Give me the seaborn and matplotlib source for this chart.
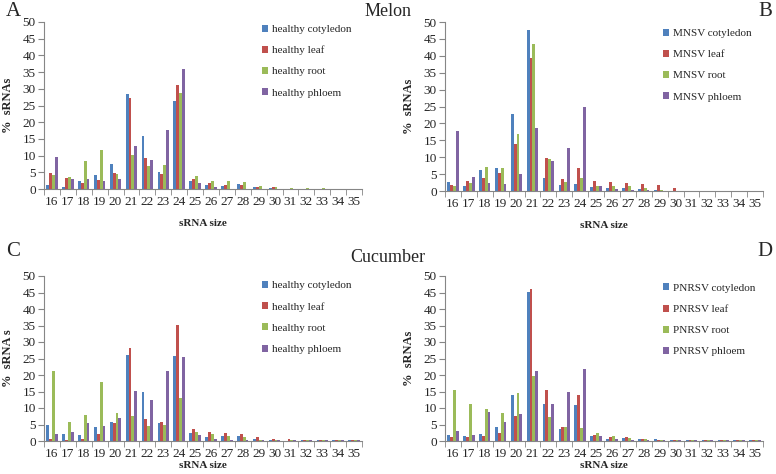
import matplotlib
matplotlib.use("Agg")
import matplotlib.pyplot as plt
import pandas as pd
import seaborn as sns

sizes = list(range(16, 36))
colores = ["#4F81BD", "#C0504D", "#9BBB59", "#8064A2"]

# Melon healthy (A)
a_cotyledon = [1.1, 0.7, 2.3, 4.1, 7.5, 28.4, 15.8, 5.1, 26.3, 2.5, 1.1, 1.0, 1.4, 0.7, 0.4, 0.1, 0.1, 0.1, 0.1, 0.1]
a_leaf = [4.8, 3.4, 1.9, 2.7, 4.8, 27.2, 9.3, 4.4, 31.2, 3.0, 1.8, 1.2, 1.3, 0.7, 0.5, 0.1, 0.1, 0.1, 0.1, 0.1]
a_root = [4.2, 3.7, 8.4, 11.7, 4.5, 10.2, 6.9, 7.2, 28.7, 3.9, 2.4, 2.3, 2.0, 1.0, 0.5, 0.4, 0.4, 0.4, 0.1, 0.1]
a_phloem = [9.7, 3.0, 3.0, 2.3, 3.0, 12.9, 8.7, 17.7, 35.9, 1.7, 0.5, 0.1, 0.1, 0.1, 0.05, 0.0, 0.0, 0.0, 0.0, 0.0]

# Melon MNSV (B)
b_cotyledon = [2.6, 1.5, 6.2, 6.8, 22.7, 47.7, 3.8, 1.9, 2.2, 1.2, 1.0, 0.8, 0.7, 0.2, 0.1, 0, 0, 0, 0, 0]
b_leaf = [1.7, 2.9, 3.8, 5.3, 14.0, 39.3, 9.7, 3.5, 6.8, 2.9, 2.6, 2.5, 2.1, 1.7, 0.8, 0, 0, 0, 0, 0]
b_root = [1.5, 2.3, 7.0, 6.8, 17.0, 43.5, 9.4, 2.8, 3.8, 1.6, 1.4, 1.4, 0.8, 0.2, 0.05, 0, 0, 0, 0, 0]
b_phloem = [17.7, 4.1, 2.3, 2.1, 5.0, 18.6, 8.8, 12.7, 25.0, 1.6, 0.5, 0.3, 0.2, 0, 0, 0, 0, 0, 0, 0]

# Cucumber healthy (C)
c_cotyledon = [4.9, 2.1, 1.8, 4.2, 5.7, 26.1, 15.0, 5.6, 25.8, 2.3, 1.2, 1.5, 1.5, 0.5, 0.2, 0.1, 0.2, 0.2, 0.2, 0.2]
c_leaf = [0.6, 0.3, 0.6, 2.1, 5.5, 28.2, 6.8, 5.7, 35.3, 3.6, 2.6, 2.3, 2.1, 1.2, 0.6, 0.6, 0.2, 0.2, 0.2, 0.2]
c_root = [21.1, 5.9, 7.9, 18.0, 8.4, 7.6, 4.6, 4.9, 12.9, 2.7, 2.1, 1.5, 1.1, 0.3, 0.2, 0.2, 0.2, 0.2, 0.2, 0.2]
c_phloem = [2.1, 2.7, 5.5, 4.6, 6.9, 15.3, 12.4, 21.3, 25.4, 1.7, 0.6, 0.3, 0.2, 0.2, 0.2, 0.2, 0.2, 0.2, 0.2, 0.2]

# Cucumber PNRSV (D)
d_cotyledon = [1.9, 1.4, 2.1, 4.3, 13.8, 45.1, 11.3, 3.5, 11.0, 1.4, 0.7, 0.8, 0.6, 0.5, 0.2, 0.2, 0.2, 0.2, 0.2, 0.2]
d_leaf = [1.1, 1.1, 1.5, 2.5, 7.6, 46.2, 15.5, 4.1, 13.9, 1.9, 1.2, 1.1, 0.7, 0.3, 0.2, 0.2, 0.2, 0.2, 0.2, 0.2]
d_root = [15.4, 11.1, 9.6, 8.6, 14.5, 19.7, 7.2, 4.1, 3.9, 2.3, 1.4, 0.9, 0.5, 0.2, 0.2, 0.2, 0.2, 0.2, 0.2, 0.2]
d_phloem = [2.9, 1.7, 8.8, 5.7, 8.2, 21.3, 11.1, 15.0, 21.7, 1.5, 0.7, 0.3, 0.2, 0.2, 0.2, 0.2, 0.2, 0.2, 0.2, 0.2]

tecidos = ["cotyledon", "leaf", "root", "phloem"]


def montar_df(prefixo, series):
    linhas = []
    for tecido, valores in zip(tecidos, series):
        for s, v in zip(sizes, valores):
            linhas.append({"size": str(s), "pct": v, "tissue": f"{prefixo} {tecido}"})
    return pd.DataFrame(linhas)


sns.set_style("white")
plt.rcParams["font.family"] = ["Liberation Serif", "DejaVu Serif"]

fig = plt.figure(figsize=(7.76, 4.74), dpi=100)
W, H = 776, 474


def eixo(x0, y0, x1, y1):
    return fig.add_axes([x0 / W, 1 - y1 / H, (x1 - x0) / W, (y1 - y0) / H])


paineis = [
    (eixo(44, 22, 362, 189), "healthy", [a_cotyledon, a_leaf, a_root, a_phloem], "%  sRNAs", 0.985, 8),
    (eixo(445, 22, 763, 191), "MNSV", [b_cotyledon, b_leaf, b_root, b_phloem], "%  sRNAs", 0.96, 8),
    (eixo(44, 276, 362, 441), "healthy", [c_cotyledon, c_leaf, c_root, c_phloem], "%  sRNA s", 0.97, 1),
    (eixo(445, 276, 763, 441), "PNRSV", [d_cotyledon, d_leaf, d_root, d_phloem], "%  sRNAs", 0.955, 1),
]

for ax, prefixo, series, ylab, topo, pad in paineis:
    df = montar_df(prefixo, series)
    sns.barplot(data=df, x="size", y="pct", hue="tissue", palette=colores,
                width=0.72, errorbar=None, linewidth=0, saturation=1, ax=ax,
                order=[str(s) for s in sizes])
    ax.set_ylim(0, 50)
    ax.set_xlim(-0.5, 19.5)
    ax.set_yticks(range(0, 51, 5))
    ax.set_xticks(range(20))
    ax.set_xticklabels([str(s) for s in sizes])
    ax.set_xticks([i + 0.5 for i in range(-1, 20)], minor=True)
    ax.tick_params(axis="x", which="major", length=0, labelsize=9.5, pad=5)
    ax.tick_params(axis="x", which="minor", length=4, color="#868686", direction="out", bottom=True)
    ax.tick_params(axis="y", length=4, color="#868686", direction="out", left=True, labelsize=9.5, pad=2)
    for lado in ["top", "right"]:
        ax.spines[lado].set_visible(False)
    for lado in ["left", "bottom"]:
        ax.spines[lado].set_color("#868686")
        ax.spines[lado].set_linewidth(0.8)
    ax.set_ylabel(ylab, fontsize=9, fontweight="bold", labelpad=6)
    ax.set_xlabel("sRNA size", fontsize=8, fontweight="bold", labelpad=pad)
    ax.legend(loc="upper left", bbox_to_anchor=(0.685, topo), frameon=False,
              fontsize=8, handlelength=0.6, handleheight=0.6, handletextpad=0.3,
              labelspacing=1.05, borderpad=0, borderaxespad=0)

fig.text(6 / W, 1 - 11 / H, "A", fontsize=15, va="center", ha="left")
fig.text(772 / W, 1 - 11 / H, "B", fontsize=15, va="center", ha="right")
fig.text(6 / W, 1 - 251 / H, "C", fontsize=15, va="center", ha="left")
fig.text(772 / W, 1 - 251 / H, "D", fontsize=15, va="center", ha="right")
fig.text(388 / W, 1 - 12 / H, "Melon", fontsize=13, va="center", ha="center")
fig.text(388 / W, 1 - 258 / H, "Cucumber", fontsize=13, va="center", ha="center")

fig.savefig("out.png", dpi=100)
